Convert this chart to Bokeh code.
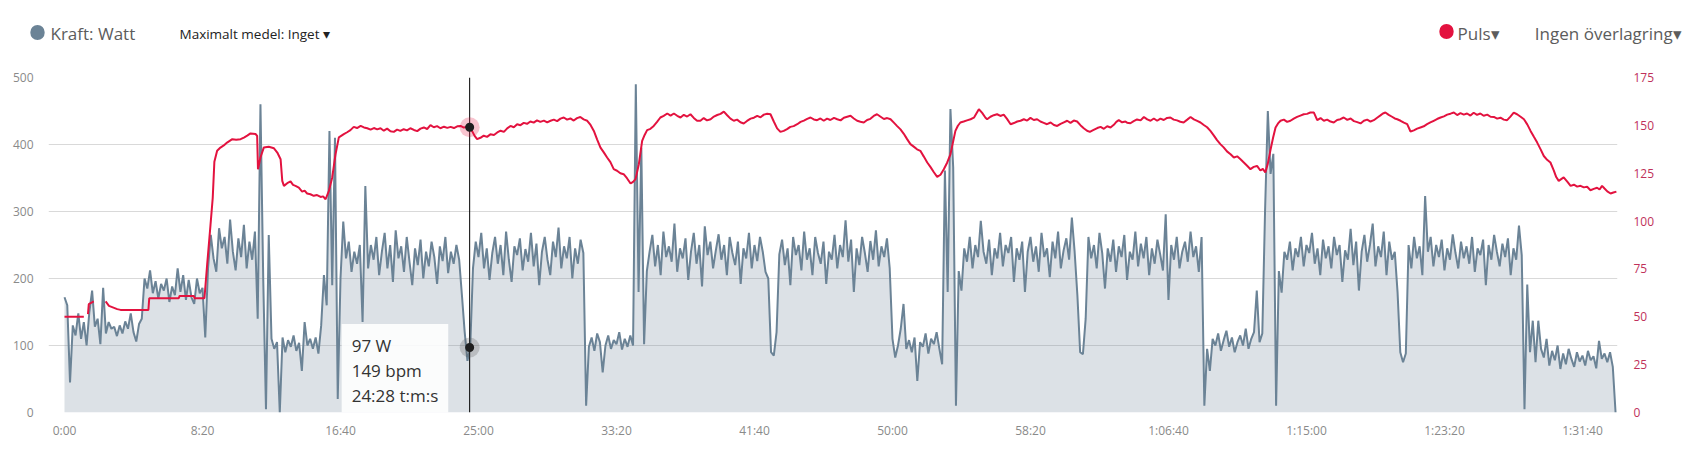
from bokeh.plotting import figure
from bokeh.models import Range1d, LinearAxis, FixedTicker, Span, Label, ColumnDataSource
from bokeh.embed import file_html
from bokeh.resources import INLINE

FONT = "Open Sans"
gap = float("nan")

# ---------------- data ----------------
power_step_s = 10
power_w = [
    172, 160, 45, 130, 115, 148, 110, 135, 100, 150,
    182, 128, 140, 102, 186, 118, 135, 125, 128, 114,
    130, 118, 136, 125, 148, 120, 106, 132, 140, 200,
    185, 212, 178, 196, 170, 192, 182, 200, 165, 188,
    175, 215, 180, 205, 168, 198, 172, 162, 200, 178,
    186, 112, 215, 265, 230, 210, 275, 245, 262, 222,
    288, 240, 212, 260, 232, 280, 215, 255, 228, 270,
    140, 460, 200, 5, 265, 110, 95, 105, 0, 112,
    90, 108, 98, 115, 92, 104, 62, 135, 100, 110,
    95, 112, 88, 130, 205, 160, 420, 190, 410, 20,
    200, 285, 230, 255, 210, 240, 222, 250, 135, 338,
    215, 250, 228, 262, 205, 240, 268, 215, 250, 195,
    272, 230, 248, 210, 262, 225, 190, 245, 220, 258,
    200, 240, 218, 255, 232, 192, 248, 226, 262, 208,
    240, 222, 250, 228, 175, 120, 77, 97, 215, 255,
    232, 268, 215, 245, 198, 238, 262, 222, 250, 205,
    270, 228, 195, 248, 235, 260, 212, 244, 225, 268,
    218, 252, 190, 240, 262, 228, 205, 255, 232, 276,
    215, 248, 230, 262, 200, 245, 222, 258, 238, 10,
    98, 112, 92, 118, 105, 60, 100, 115, 95, 108,
    102, 120, 94, 110, 98, 115, 100, 490, 180, 395,
    102, 211, 240, 265, 218, 250, 205, 270, 232, 248,
    225, 282, 210, 245, 230, 260, 198, 240, 268, 222,
    250, 188, 278, 235, 255, 215, 242, 266, 228, 250,
    205, 262, 238, 220, 255, 192, 245, 230, 268, 215,
    250, 226, 262, 240, 210, 200, 90, 85, 120, 236,
    258, 220, 245, 190, 262, 235, 250, 212, 270, 228,
    245, 205, 262, 238, 222, 255, 192, 240, 228, 265,
    215, 250, 232, 287, 225, 258, 180, 245, 220, 262,
    238, 210, 256, 228, 272, 218, 248, 232, 260, 215,
    110, 82, 100, 125, 162, 95, 108, 90, 112, 47,
    105, 98, 118, 88, 110, 102, 120, 95, 72, 361,
    180, 453, 366, 10, 211, 182, 245, 225, 262, 215,
    250, 232, 286, 240, 222, 258, 205, 245, 230, 268,
    218, 250, 238, 262, 195, 245, 228, 255, 180, 240,
    262, 225, 248, 210, 268, 232, 245, 202, 255, 230,
    270, 215, 242, 260, 228, 291, 240, 175, 90, 87,
    140, 262, 230, 250, 215, 268, 238, 185, 245, 225,
    258, 210, 248, 232, 265, 198, 240, 228, 270, 218,
    252, 230, 262, 205, 245, 222, 258, 236, 212, 296,
    168, 250, 228, 262, 215, 240, 255, 225, 270, 232,
    248, 210, 262, 10, 95, 62, 110, 100, 118, 92,
    108, 122, 98, 112, 90, 105, 115, 100, 125, 95,
    110, 120, 182, 105, 118, 301, 450, 356, 386, 10,
    211, 179, 240, 228, 255, 212, 245, 232, 262, 218,
    250, 238, 268, 222, 245, 205, 258, 230, 248, 215,
    262, 235, 250, 195, 242, 228, 274, 220, 255, 182,
    240, 265, 225, 250, 282, 218, 248, 232, 270, 205,
    255, 228, 240, 180, 90, 75, 88, 250, 215, 262,
    230, 248, 205, 323, 240, 262, 218, 250, 232, 258,
    212, 245, 228, 266, 238, 215, 255, 230, 248, 222,
    262, 210, 245, 235, 258, 190, 250, 228, 265, 240,
    218, 252, 232, 260, 205, 245, 228, 279, 235, 5,
    191, 90, 137, 75, 137, 95, 82, 110, 70, 92,
    78, 100, 65, 88, 72, 95, 80, 68, 90, 76,
    85, 70, 92, 78, 84, 66, 107, 80, 88, 75,
    90, 68, 0,
]
power_time_s = [i * power_step_s for i in range(len(power_w))]

hr_time_s = [
    0, 70, 76, 85, 88, 106, 118, 149, 161, 191, 203, 304, 307, 414, 417, 469, 471, 507,
    517, 529, 537, 543, 553, 565, 577, 589, 608, 622, 638, 650, 662, 674, 692, 698,
    701, 710, 722, 740, 759, 771, 783, 789, 795, 807, 819, 828, 837, 849, 861, 870,
    879, 891, 903, 915, 928, 937, 946, 958, 970, 982, 994, 1012, 1024, 1036, 1048,
    1060, 1073, 1085, 1097, 1109, 1121, 1133, 1145, 1157, 1169, 1181, 1193, 1205,
    1217, 1229, 1241, 1253, 1266, 1278, 1290, 1302, 1314, 1326, 1338, 1350, 1362,
    1375, 1387, 1399, 1411, 1423, 1435, 1447, 1459, 1468, 1477, 1486, 1495, 1507,
    1519, 1531, 1543, 1556, 1568, 1580, 1592, 1604, 1616, 1628, 1640, 1652, 1664,
    1676, 1688, 1700, 1712, 1724, 1737, 1749, 1761, 1773, 1785, 1797, 1809, 1821,
    1833, 1845, 1857, 1869, 1881, 1894, 1906, 1918, 1930, 1942, 1954, 1966, 1978,
    1990, 2002, 2014, 2026, 2038, 2051, 2060, 2069, 2081, 2093, 2102, 2111, 2123,
    2135, 2147, 2159, 2171, 2184, 2196, 2208, 2220, 2232, 2244, 2256, 2268, 2280,
    2292, 2304, 2316, 2328, 2341, 2353, 2365, 2377, 2389, 2401, 2413, 2425, 2437,
    2449, 2461, 2473, 2486, 2498, 2510, 2522, 2534, 2546, 2558, 2570, 2582, 2594,
    2606, 2618, 2630, 2642, 2655, 2667, 2679, 2691, 2703, 2715, 2727, 2739, 2751,
    2763, 2775, 2788, 2800, 2812, 2824, 2836, 2848, 2860, 2872, 2884, 2896, 2908,
    2920, 2932, 2944, 2957, 2969, 2981, 2993, 3005, 3017, 3029, 3041, 3053, 3065,
    3077, 3089, 3101, 3113, 3126, 3138, 3150, 3162, 3174, 3186, 3198, 3210, 3219,
    3228, 3237, 3246, 3258, 3270, 3283, 3295, 3304, 3313, 3325, 3337, 3343, 3355,
    3367, 3379, 3391, 3403, 3415, 3428, 3440, 3452, 3464, 3476, 3488, 3500, 3512,
    3524, 3536, 3548, 3560, 3573, 3585, 3597, 3609, 3621, 3633, 3645, 3657, 3669,
    3681, 3693, 3705, 3715, 3727, 3742, 3754, 3766, 3778, 3790, 3802, 3811, 3820,
    3832, 3844, 3850, 3862, 3874, 3886, 3899, 3911, 3923, 3935, 3947, 3959, 3971,
    3983, 3995, 4007, 4019, 4031, 4043, 4055, 4068, 4080, 4092, 4104, 4116, 4128,
    4140, 4152, 4164, 4176, 4188, 4200, 4212, 4225, 4237, 4249, 4261, 4273, 4285,
    4297, 4309, 4321, 4333, 4342, 4351, 4360, 4369, 4379, 4388, 4397, 4406, 4418,
    4430, 4442, 4454, 4466, 4478, 4490, 4502, 4514, 4527, 4539, 4551, 4563, 4575,
    4587, 4599, 4611, 4623, 4635, 4648, 4660, 4672, 4684, 4696, 4708, 4720, 4732,
    4744, 4756, 4768, 4777, 4786, 4798, 4810, 4820, 4829, 4841, 4853, 4865, 4877,
    4889, 4901, 4913, 4925, 4937, 4949, 4961, 4973, 4986, 4998, 5010, 5022, 5034,
    5046, 5058, 5070, 5082, 5094, 5106, 5118, 5130, 5142, 5155, 5167, 5179, 5191,
    5203, 5215, 5227, 5239, 5251, 5263, 5276, 5288, 5300, 5312, 5324, 5336, 5348,
    5360, 5372, 5384, 5396, 5405, 5414, 5423, 5432, 5445, 5457, 5469, 5481, 5493,
    5505, 5517, 5529, 5541, 5553, 5562, 5571, 5580, 5590, 5602, 5612, 5623,
]
hr_bpm = [
    50.0, 50.0, gap, 51.4, 56.6, 58.0, gap, 58.0, 55.7, 54.0, 53.6, 53.6, 59.7, 59.7, 60.9, 60.9, 59.7, 59.7,
    77.5, 98.0, 112.0, 131.0, 136.7, 138.4, 139.5, 141.0, 142.8, 142.5, 142.8, 143.6, 144.6, 145.8, 145.5, 144.5,
    127.1, 133.2, 138.4, 138.8, 138.0, 135.8, 132.3, 121.0, 118.4, 119.8, 120.7, 118.9, 118.4, 117.5, 115.4, 115.9,
    114.4, 114.0, 113.2, 113.6, 112.6, 112.9, 111.4, 115.8, 122.8, 134.9, 143.7, 145.4, 146.4, 147.5, 149.2,
    148.6, 149.7, 148.9, 148.5, 147.8, 148.6, 147.9, 148.5, 147.2, 148.3, 146.9, 146.6, 147.8,
    147.1, 148.0, 147.4, 148.5, 147.6, 147.0, 148.3, 148.9, 148.1, 150.1, 149.0, 149.6, 148.5,
    149.3, 148.7, 149.2, 148.6, 149.5, 149.7, 148.8, 149.4, 149.0, 147.0, 144.5, 142.8, 143.5,
    144.6, 144.0, 145.3, 145.0, 146.3, 147.2, 146.6, 148.4, 149.7, 149.0, 150.6, 150.1, 151.3,
    150.8, 152.0, 151.4, 152.6, 151.8, 152.5, 151.6, 152.4, 153.0, 152.2, 153.5, 154.1, 153.0,
    153.6, 152.5, 153.8, 154.4, 153.1, 152.4, 150.2, 147.1, 142.6, 138.4, 135.9, 133.2, 130.8,
    127.1, 126.3, 125.0, 124.5, 122.4, 119.6, 120.5, 121.9, 129.7, 141.9, 145.0, 147.5, 148.2,
    149.7, 151.8, 154.1, 155.0, 156.2, 155.1, 156.2, 155.0, 154.1, 155.5, 154.6, 155.8, 153.9,
    152.4, 152.4, 153.8, 152.6, 153.2, 154.6, 155.4, 156.0, 157.2, 155.3, 153.5, 152.4, 153.0,
    151.6, 151.0, 152.3, 153.5, 154.0, 155.0, 154.2, 155.6, 156.1, 155.8, 152.0, 148.4, 146.6,
    147.1, 148.0, 149.2, 149.6, 150.6, 151.8, 152.5, 153.4, 154.1, 153.1, 152.7, 153.6, 152.4,
    153.5, 152.8, 153.9, 153.2, 152.6, 154.0, 154.5, 155.0, 153.6, 152.4, 151.9, 151.5, 152.8,
    153.4, 154.9, 155.8, 154.5, 153.3, 153.8, 153.2, 151.4, 149.6, 147.9, 145.6, 142.8, 140.2,
    138.9, 137.5, 136.7, 133.8, 130.6, 128.2, 125.5, 123.1, 124.2, 127.1, 130.5, 134.9, 141.0,
    147.1, 149.8, 151.5, 152.0, 152.6, 153.2, 154.0, 156.2, 158.4, 156.5, 154.0, 153.2, 154.5,
    155.3, 155.8, 154.9, 155.6, 153.4, 150.6, 151.2, 152.0, 152.4, 153.2, 152.5, 153.9, 152.8,
    153.2, 152.0, 151.3, 150.6, 151.5, 150.2, 149.7, 150.8, 151.6, 152.4, 151.3, 152.5, 152.0,
    150.1, 148.5, 147.2, 146.6, 147.5, 148.6, 149.2, 148.2, 149.5, 148.9, 150.3, 151.8, 152.7,
    151.6, 152.0, 151.4, 151.1, 152.2, 153.1, 152.6, 154.4, 153.1, 152.4, 153.6, 152.4, 153.5,
    152.8, 153.9, 154.1, 153.0, 152.6, 151.9, 151.5, 153.0, 154.4, 153.1, 152.3, 151.5, 150.2,
    149.0, 147.1, 144.8, 142.3, 140.2, 138.5, 136.4, 134.9, 133.2, 133.8, 132.3, 130.6, 128.9,
    127.1, 128.3, 128.8, 126.4, 127.3, 125.4, 130.0, 136.7, 143.5, 148.9, 151.0, 152.4, 153.0,
    151.8, 152.4, 153.5, 154.4, 155.1, 155.8, 156.0, 156.7, 156.7, 152.7, 153.8, 152.4, 153.0,
    152.0, 151.5, 152.8, 153.2, 154.1, 152.9, 153.6, 152.2, 151.7, 151.0, 152.4, 153.0, 152.0,
    152.7, 154.0, 155.2, 156.2, 156.7, 155.5, 154.5, 153.6, 153.2, 152.4, 151.4, 150.6, 146.8,
    147.4, 148.3, 148.9, 149.5, 150.6, 151.5, 152.4, 153.3, 154.1, 154.7, 155.6, 156.1, 156.7,
    155.4, 156.4, 155.6, 156.2, 155.1, 156.6, 155.5, 156.2, 155.0, 155.6, 154.5, 154.4, 153.5,
    154.0, 153.0, 152.7, 154.6, 156.7, 155.8, 154.5, 153.2, 150.5, 147.1, 144.0, 141.0, 137.6,
    134.0, 132.0, 130.6, 126.5, 123.0, 121.0, 121.9, 122.8, 120.6, 118.4, 119.0, 118.0, 118.4,
    117.6, 117.9, 116.1, 116.8, 117.4, 116.5, 118.4, 117.0, 115.5, 114.4, 114.9, 115.4,
]

power_ticks = [0, 100, 200, 300, 400, 500]
hr_ticks = [0, 25, 50, 75, 100, 125, 150, 175]
time_ticks_s = [0, 500, 1000, 1500, 2000, 2500, 3000, 3500, 4000, 4500, 5000, 5500]
time_tick_labels = ["0:00", "8:20", "16:40", "25:00", "33:20", "41:40", "50:00",
                    "58:20", "1:06:40", "1:15:00", "1:23:20", "1:31:40"]

cursor_time_s = 1468
cursor_power_w = 97
cursor_hr_bpm = 149
cursor_label = "24:28"

series_names = ["Kraft: Watt", "Puls▾"]
header_controls = ["Maximalt medel: Inget ▾", "Ingen överlagring▾"]

# ---------------- colors / layout ----------------
POWER = "#6b8396"
HR = "#e3123f"
HR_LABEL = "#c0315a"

W, H = 1703, 455
FRAME_L, FRAME_R, FRAME_T, FRAME_B = 48, 1617, 77, 412
X0, X1 = -58, 5627
P_MAX, HR_MAX = 500, 175


def px_x(px):
    """canvas pixel column -> time axis value (for placing header annotations)"""
    return X0 + (px - FRAME_L) * (X1 - X0) / (FRAME_R - FRAME_L)


def px_y(py):
    """canvas pixel row -> power axis value (for placing header annotations)"""
    return (FRAME_B - py) * P_MAX / (FRAME_B - FRAME_T)


src_p = ColumnDataSource(dict(t=power_time_s, w=power_w))
src_h = ColumnDataSource(dict(t=hr_time_s, b=hr_bpm))

p = figure(width=W, height=H, output_backend="svg", toolbar_location=None,
           x_range=Range1d(X0, X1), y_range=Range1d(0, P_MAX),
           min_border_left=FRAME_L, min_border_right=W - FRAME_R,
           min_border_top=FRAME_T, min_border_bottom=H - FRAME_B,
           background_fill_color="white", border_fill_color="white")
p.outline_line_color = None
p.extra_y_ranges = {"hr": Range1d(0, HR_MAX)}

p.xgrid.visible = False
p.ygrid.grid_line_color = "#d9d9d9"
p.ygrid.grid_line_width = 1

for ax in (p.xaxis[0], p.yaxis[0]):
    ax.axis_line_color = None
    ax.major_tick_line_color = None
    ax.minor_tick_line_color = None
    ax.major_tick_out = 0
    ax.major_tick_in = 0
    ax.major_label_text_font = FONT
    ax.major_label_text_font_size = "12px"
    ax.major_label_text_color = "#8a8a8a"

p.yaxis[0].ticker = FixedTicker(ticks=power_ticks)
p.yaxis[0].major_label_standoff = 15
p.xaxis[0].ticker = FixedTicker(ticks=time_ticks_s)
p.xaxis[0].major_label_overrides = {t: s for t, s in zip(time_ticks_s, time_tick_labels)}
p.xaxis[0].major_label_standoff = 9

ra = LinearAxis(y_range_name="hr", ticker=FixedTicker(ticks=hr_ticks))
ra.axis_line_color = None
ra.major_tick_line_color = None
ra.minor_tick_line_color = None
ra.major_tick_out = 0
ra.major_tick_in = 0
ra.major_label_text_font = FONT
ra.major_label_text_font_size = "12px"
ra.major_label_text_color = HR_LABEL
ra.major_label_standoff = 16
p.add_layout(ra, "right")

p.varea(x="t", y1=0, y2="w", source=src_p, fill_color=POWER, fill_alpha=0.24)
p.line(x="t", y="w", source=src_p, line_color=POWER, line_width=2)
p.line(x="t", y="b", source=src_h, line_color=HR, line_width=2, y_range_name="hr")

p.add_layout(Span(location=cursor_time_s, dimension="height", line_color="#000000", line_width=1))
r1 = p.scatter([cursor_time_s], [cursor_power_w], size=20, fill_color="#555555", fill_alpha=0.25, line_color=None)
r2 = p.scatter([cursor_time_s], [cursor_power_w], size=9, fill_color="#1e1e1e", line_color=None)
r3 = p.scatter([cursor_time_s], [cursor_hr_bpm], size=20, fill_color=HR, fill_alpha=0.25, line_color=None, y_range_name="hr")
r4 = p.scatter([cursor_time_s], [cursor_hr_bpm], size=9, fill_color="#1e1e1e", line_color=None, y_range_name="hr")
for r in (r1, r2, r3, r4):
    r.level = "overlay"

tip = Label(x=cursor_time_s, y=0, x_offset=-128, y_offset=-5,
            text=f"{cursor_power_w} W\n{cursor_hr_bpm} bpm\n{cursor_label} t:m:s",
            text_font=FONT, text_font_size="17px", text_color="#333333",
            text_align="left", text_baseline="bottom", text_line_height=1.10,
            background_fill_color="white", background_fill_alpha=0.88, padding=10)
p.add_layout(tip)


# ---------------- header (legend / controls), placed in side panels so it is not clipped ----------------
def dot(cx, cy, color):
    # small round marker; lives in the wide right border panel so it does not grow the top panel
    p.add_layout(Label(x=px_x(cx), y=px_y(cy), text=" ", text_font_size="1px",
                       text_align="center", text_baseline="middle",
                       background_fill_color=color, padding=7, border_radius=8), "right")


def hdr(lx, cy, text, size, color):
    p.add_layout(Label(x=px_x(lx), y=px_y(cy), text=text, text_font=FONT,
                       text_font_size=size, text_color=color,
                       text_align="left", text_baseline="middle"), "above")


NBSP = "\u00a0"
dot(37, 32, POWER)
dot(1446, 31, HR)
hdr(50, 33, series_names[0], "17px", "#5c5c5c")
hdr(179, 33, header_controls[0], "13.5px", "#222222")
hdr(1457, 33, series_names[1] + NBSP * 8 + header_controls[1], "17px", "#5c5c5c")

open("out.html", "w").write(file_html(p, INLINE))
